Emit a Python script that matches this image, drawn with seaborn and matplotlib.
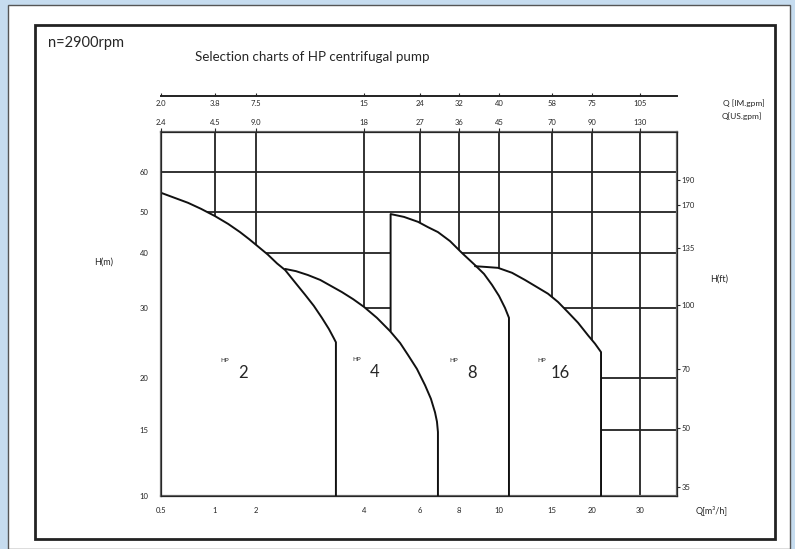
import numpy as np
import matplotlib.pyplot as plt
from matplotlib.patches import Rectangle
import seaborn as sns

# axis ticks
q_ticks = [0.5, 1, 2, 4, 6, 8, 10, 15, 20, 30]
q_labels = ['0.5', '1', '2', '4', '6', '8', '10', '15', '20', '30']
us_gpm = ['2.4', '4.5', '9.0', '18', '27', '36', '45', '70', '90', '130']
im_gpm = ['2.0', '3.8', '7.5', '15', '24', '32', '40', '58', '75', '105']
h_ticks = [10, 15, 20, 30, 40, 50, 60]
ft_ticks = [190, 170, 135, 100, 70, 50, 35]

# pump curves, Q [m3/h] vs H [m]
hp2_q = [0.5, 0.63, 0.75, 0.87, 1.0, 1.32, 1.61, 1.83, 2.0, 2.22, 2.39, 2.54, 2.72, 2.91,
         3.07, 3.22, 3.35, 3.44, 3.48, 3.48]
hp2_h = [54.8, 53.5, 52.3, 50.8, 49.0, 47.1, 45.1, 43.4, 42.0, 39.7, 38.1, 36.9, 34.7, 32.4,
         30.4, 28.6, 27.0, 25.7, 25.1, 10]
hp4_q = [2.54, 2.74, 2.96, 3.19, 3.39, 3.59, 3.80, 4.0, 4.46, 4.93, 5.29, 5.57, 5.89, 6.26,
         6.56, 6.77, 6.87, 6.92, 6.92]
hp4_h = [37.1, 36.7, 36.0, 35.1, 34.0, 32.9, 31.6, 30.2, 28.6, 26.7, 25.0, 23.3, 21.3, 19.3,
         18.0, 16.7, 15.8, 14.85, 10]
hp8_q = [4.95, 4.95, 5.43, 5.93, 6.41, 6.92, 7.54, 8.15, 8.8, 9.25, 9.65, 10.0, 10.57, 10.94, 10.94]
hp8_h = [26.7, 49.5, 48.8, 47.6, 46.3, 45.1, 42.9, 40.0, 37.8, 36.2, 34.2, 32.2, 30.0, 28.6, 10]
hp16_q = [8.8, 9.4, 9.95, 11.23, 12.45, 13.58, 14.62, 15.75, 17.0, 18.25, 19.5, 20.63, 21.88, 21.88]
hp16_h = [37.6, 37.45, 37.3, 36.4, 35.1, 33.8, 32.6, 31.1, 29.4, 27.9, 26.1, 24.9, 23.7, 10]

pumps = ['2', '4', '8', '16']
curves = [(hp2_q, hp2_h), (hp4_q, hp4_h), (hp8_q, hp8_h), (hp16_q, hp16_h)]
label_q = [1.68, 4.39, 8.65, 16.0]
label_h = [20.7, 20.9, 20.7, 20.7]

# the printed chart has hand spaced (non uniform) axes
q_knots = np.array([0.5, 1, 2, 4, 6, 8, 10, 15, 20, 30, 40])
q_pos = np.array([0, 54, 95, 203, 259, 298, 338, 391, 431, 479, 516])
h_knots = np.array([10, 15, 20, 30, 40, 50, 60, 70])
h_pos = np.array([0, 66, 118, 188, 243, 284, 324, 364])

q_scale = (lambda v: np.interp(v, q_knots, q_pos), lambda p: np.interp(p, q_pos, q_knots))
h_scale = (lambda v: np.interp(v, h_knots, h_pos), lambda p: np.interp(p, h_pos, h_knots))

sns.set_style('white')
plt.rcParams['font.family'] = ['Lato', 'DejaVu Sans']

fig = plt.figure(figsize=(7.95, 5.49), dpi=100, facecolor='#c6dcef')
fig.add_artist(Rectangle((8 / 795, 0), 782 / 795, 544 / 549, transform=fig.transFigure,
                         facecolor='white', edgecolor='#555555', lw=1, zorder=-10))
fig.add_artist(Rectangle((35 / 795, 10 / 549), 740 / 795, 514 / 549, transform=fig.transFigure,
                         facecolor='none', edgecolor='#222222', lw=2, zorder=-5))

ax = fig.add_axes([161 / 795, 53 / 549, 516 / 795, 364 / 549])
ax.patch.set_alpha(0)
ax.set_xscale('function', functions=q_scale)
ax.set_yscale('function', functions=h_scale)
ax.set_xlim(0.5, 40)
ax.set_ylim(10, 70)

for q in q_ticks[1:]:
    ax.axvline(q, color='#222222', lw=1.3, zorder=1)
for h in h_ticks[1:]:
    ax.axhline(h, color='#222222', lw=1.3, zorder=1)

for (q, h) in curves:
    ax.fill(q + [q[0]], h + [10], color='white', zorder=2, lw=0)
for (q, h) in curves:
    sns.lineplot(x=q, y=h, sort=False, estimator=None, color='#111111', lw=1.4, ax=ax, zorder=3)

for name, q, h in zip(pumps, label_q, label_h):
    ax.text(q, h, name, fontsize=12, ha='center', va='center', zorder=4)
    ax.annotate('HP', (q, h), xytext=(-13, 9), textcoords='offset points',
                fontsize=4.5, ha='center', va='center', zorder=4)

ax.set_xticks(q_ticks, q_labels)
ax.set_yticks(h_ticks, [str(h) for h in h_ticks])
ax.tick_params(axis='both', length=0, labelsize=5.5, colors='#222222')
ax.tick_params(axis='x', pad=8)
ax.tick_params(axis='y', pad=9)
ax.set_xlabel('')
ax.set_ylabel('')
for s in ax.spines.values():
    s.set_color('#666666')
    s.set_linewidth(1.6)

# top axes: US gpm at the box, IM gpm on a separate line above
ax_us = ax.twiny()
ax_us.set_xscale('function', functions=q_scale)
ax_us.set_xlim(0.5, 40)
ax_us.set_xticks(q_ticks, us_gpm)
ax_us.tick_params(axis='x', direction='out', length=3, width=0.8, labelsize=5.5, pad=1)

ax_im = ax.twiny()
ax_im.set_xscale('function', functions=q_scale)
ax_im.set_xlim(0.5, 40)
ax_im.set_xticks(q_ticks, im_gpm)
ax_im.xaxis.set_ticks_position('bottom')
ax_im.xaxis.set_label_position('bottom')
ax_im.spines['bottom'].set_position(('axes', 1.1))
ax_im.tick_params(axis='x', direction='in', length=2.5, width=0.8, labelsize=5.5, pad=3.5)
for side in ['top', 'left', 'right']:
    ax_im.spines[side].set_visible(False)
ax_im.spines['bottom'].set_color('#222222')
ax_im.spines['bottom'].set_linewidth(1.4)

# right axis in feet
ax_ft = ax.twinx()
ax_ft.set_yscale('function', functions=h_scale)
ax_ft.set_ylim(10, 70)
ax_ft.set_yticks(np.array(ft_ticks) / 3.281, [str(f) for f in ft_ticks])
ax_ft.tick_params(axis='y', direction='out', length=2.5, width=0.8, labelsize=5.5, pad=1)
for s in ax_ft.spines.values():
    s.set_visible(False)

fig.text(48 / 795, 1 - 43 / 549, 'n=2900rpm', fontsize=10.5, va='center')
fig.text(312 / 795, 1 - 57 / 549, 'Selection charts of HP centrifugal pump', fontsize=9.6,
         ha='center', va='center')
fig.text(104 / 795, 1 - 262 / 549, 'H(m)', fontsize=6.5, ha='center', va='center')
fig.text(719 / 795, 1 - 279 / 549, 'H(ft)', fontsize=6.5, ha='center', va='center')
fig.text(712 / 795, 1 - 511 / 549, 'Q[m³/h]', fontsize=6.5, ha='center', va='center')
fig.text(723 / 795, 1 - 103 / 549, 'Q [IM.gpm]', fontsize=6, va='center')
fig.text(722 / 795, 1 - 116 / 549, 'Q[US.gpm]', fontsize=6, va='center')

fig.savefig('out.png', dpi=100, facecolor=fig.get_facecolor())
